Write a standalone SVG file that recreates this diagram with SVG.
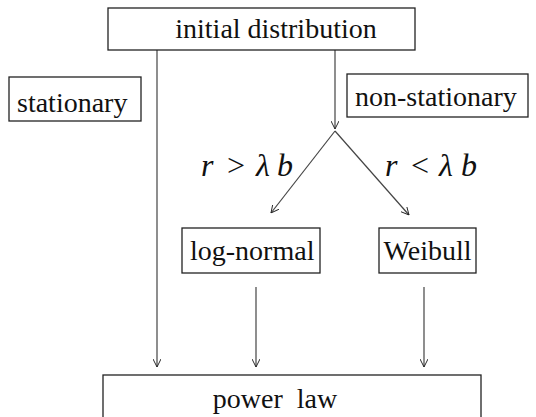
<svg xmlns="http://www.w3.org/2000/svg" width="536" height="417" viewBox="0 0 536 417">
<defs>
<marker id="ah" viewBox="0 0 10 10" refX="10" refY="5" markerWidth="8" markerHeight="8" markerUnits="userSpaceOnUse" orient="auto">
<path d="M0,0 L10,5 L0,10" fill="none" stroke="#222" stroke-width="1.2"/>
</marker>
<style>
.box{fill:#fff;stroke:#222;stroke-width:1.3}
.t{font-family:"Liberation Serif","Times New Roman",serif;font-size:28px;fill:#111}
.c{stroke:#444;stroke-width:1.2;fill:none;marker-end:url(#ah)}
.m{font-family:"Liberation Serif","Times New Roman",serif;font-size:32px;fill:#111}
.i{font-style:italic}
</style>
</defs>
<rect width="536" height="417" fill="#fff"/>
<g id="connectors">
<line class="c" x1="157" y1="50" x2="157" y2="367"/>
<line class="c" x1="335" y1="50" x2="335" y2="129"/>
<line class="c" x1="335" y1="131" x2="271" y2="213"/>
<line class="c" x1="335" y1="131" x2="409" y2="215"/>
<line class="c" x1="256" y1="287" x2="256" y2="367"/>
<line class="c" x1="424" y1="287" x2="424" y2="367"/>
</g>
<g id="initial">
<rect class="box" x="108" y="8" width="307" height="42"/>
<text class="t" x="276" y="38" text-anchor="middle">initial distribution</text>
</g>
<g id="stationary">
<rect class="box" x="9" y="77" width="132" height="44"/>
<text class="t" x="17" y="112">stationary</text>
</g>
<g id="nonstationary">
<rect class="box" x="347" y="74" width="181" height="43"/>
<text class="t" x="355" y="106">non-stationary</text>
</g>
<g id="cond-left">
<text class="m"><tspan class="i" x="201" y="176">r</tspan><tspan x="227" y="176">&gt;</tspan><tspan class="i" x="256" y="176">λ</tspan><tspan class="i" x="277" y="176">b</tspan></text>
</g>
<g id="cond-right">
<text class="m"><tspan class="i" x="385" y="176">r</tspan><tspan x="411" y="176">&lt;</tspan><tspan class="i" x="439" y="176">λ</tspan><tspan class="i" x="461" y="176">b</tspan></text>
</g>
<g id="lognormal">
<rect class="box" x="182" y="228" width="138" height="45"/>
<text class="t" x="190" y="260">log-normal</text>
</g>
<g id="weibull">
<rect class="box" x="379" y="228" width="97" height="45"/>
<text class="t" x="427.5" y="260" text-anchor="middle">Weibull</text>
</g>
<g id="powerlaw">
<rect class="box" x="103" y="375" width="378" height="50"/>
<text class="t" x="275" y="408" text-anchor="middle" xml:space="preserve">power  law</text>
</g>
</svg>
